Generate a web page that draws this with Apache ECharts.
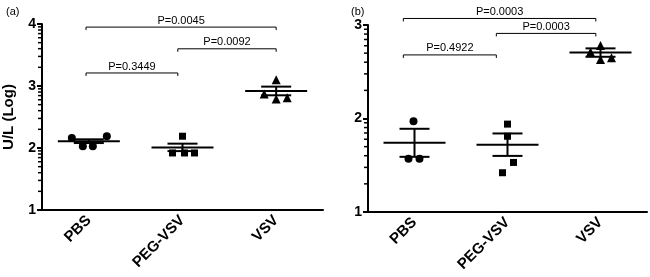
<!DOCTYPE html>
<html>
<head>
<meta charset="utf-8">
<script src="https://cdn.jsdelivr.net/npm/echarts@6/dist/echarts.min.js"></script>
<style>
  html, body { margin: 0; padding: 0; background: #fff; }
  #chart { width: 650px; height: 277px; }
</style>
</head>
<body>
<div id="chart"></div>
<script>
var categories = ['PBS', 'PEG-VSV', 'VSV'];

// panel (a) – individual points, log10 U/L
var pbsA = [2.16, 2.03, 2.03, 2.19];
var pegA = [2.19, 1.92, 1.92, 1.92];
var vsvA = [3.10, 2.87, 2.79, 2.81];
var meanA = [2.11, 2.01, 2.92];
var semA = [0.03, 0.06, 0.07];

// panel (b)
var pbsB = [1.97, 1.57, 1.57];
var pegB = [1.94, 1.81, 1.53, 1.42];
var vsvB = [2.78, 2.71, 2.63, 2.65];
var meanB = [1.74, 1.72, 2.705];
var semB = [0.15, 0.12, 0.045];

// p-value brackets: [from, to, height, text]
var bracketsA = [[-0.03, 2, 3.95, 'P=0.0045'], [0.95, 2, 3.6, 'P=0.0092'], [-0.03, 0.95, 3.21, 'P=0.3449']];
var bracketsB = [[-0.12, 1.95, 3.07, 'P=0.0003'], [0.88, 1.95, 2.91, 'P=0.0003'], [-0.12, 0.88, 2.68, 'P=0.4922']];

// horizontal jitter of the dots (pixels)
var jitA = [[-17, -6, 4, 18], [0, -10, 2, 12], [0, -12, 0, 11]];
var jitB = [[-1, -6, 5], [0, 0, 6, -5], [0, -10, 0, 11]];

var FONT = 'Liberation Sans, Arial, sans-serif';

function logMinor(lo, hi) {
  var out = [];
  for (var d = lo; d < hi; d++) {
    for (var k = 2; k <= 9; k++) out.push(d + Math.log10(k));
  }
  return out;
}

// category coords are snapped to integers, so fractional positions go through the band width
function xAt(api, f, y) {
  var i = Math.round(f);
  var p = api.coord([i, y]);
  return [p[0] + (f - i) * api.size([1, 0])[0], p[1]];
}

function pts(vals, idx, jit) {
  return vals.map(function (v, i) {
    return { value: [idx, v], symbolOffset: [jit[i], 0] };
  });
}

function scatter(vals, idx, jit, sym, size, g) {
  return {
    type: 'scatter', xAxisIndex: g, yAxisIndex: g,
    symbol: sym, symbolSize: size,
    itemStyle: { color: '#000', opacity: 1 },
    data: pts(vals, idx, jit), z: 3
  };
}

function meanSeries(means, sems, g) {
  return {
    type: 'custom', xAxisIndex: g, yAxisIndex: g, z: 4,
    data: means.map(function (m, i) { return [i, m, sems[i]]; }),
    renderItem: function (params, api) {
      var c = api.coord([api.value(0), api.value(1)]);
      var up = api.coord([api.value(0), api.value(1) + api.value(2)]);
      var dn = api.coord([api.value(0), api.value(1) - api.value(2)]);
      var st = { stroke: '#000', lineWidth: 2 };
      return {
        type: 'group', children: [
          { type: 'line', shape: { x1: c[0] - 31, y1: c[1], x2: c[0] + 31, y2: c[1] }, style: st },
          { type: 'line', shape: { x1: c[0], y1: up[1], x2: c[0], y2: dn[1] }, style: st },
          { type: 'line', shape: { x1: c[0] - 15, y1: up[1], x2: c[0] + 15, y2: up[1] }, style: st },
          { type: 'line', shape: { x1: c[0] - 15, y1: dn[1], x2: c[0] + 15, y2: dn[1] }, style: st }
        ]
      };
    }
  };
}

function bracketSeries(br, g) {
  return {
    type: 'custom', xAxisIndex: g, yAxisIndex: g, z: 5, clip: false,
    data: br.map(function (b) { return [Math.round(b[0]), b[2]]; }),
    renderItem: function (params, api) {
      var b = br[params.dataIndex];
      var p0 = xAt(api, b[0], b[2]);
      var p1 = xAt(api, b[1], b[2]);
      return {
        type: 'group', children: [
          { type: 'polyline', shape: { points: [[p0[0], p0[1] + 3], [p0[0], p0[1]], [p1[0], p1[1]], [p1[0], p1[1] + 3]] },
            style: { stroke: '#000', lineWidth: 1, fill: null } },
          { type: 'text', x: (p0[0] + p1[0]) / 2, y: p0[1] - 1,
            style: { text: b[3], fill: '#000', font: '11px ' + FONT, textAlign: 'center', textVerticalAlign: 'bottom' } }
        ]
      };
    }
  };
}

function minorSeries(lo, hi, g) {
  var ticks = logMinor(lo, hi);
  return {
    type: 'custom', xAxisIndex: g, yAxisIndex: g, z: 2, clip: false, silent: true,
    data: ticks.map(function (v) { return [0, v]; }),
    renderItem: function (params, api) {
      var p = xAt(api, -0.5, ticks[params.dataIndex]);
      return { type: 'line', shape: { x1: p[0] - 4, y1: p[1], x2: p[0], y2: p[1] }, style: { stroke: '#000', lineWidth: 1.5 } };
    }
  };
}

function xAx(g) {
  return {
    type: 'category', gridIndex: g, data: categories,
    axisLine: { lineStyle: { color: '#000', width: 2 } },
    axisTick: { alignWithLabel: true, length: 5, lineStyle: { color: '#000', width: 2 } },
    axisLabel: { rotate: 45, color: '#000', fontWeight: 'bold', fontSize: 15, fontFamily: FONT, margin: 8 }
  };
}

function yAx(g, max, name) {
  return {
    type: 'value', gridIndex: g, min: 1, max: max, interval: 1,
    name: name, nameLocation: 'middle', nameGap: 26,
    nameTextStyle: { color: '#000', fontWeight: 'bold', fontSize: 15, fontFamily: FONT },
    splitLine: { show: false },
    axisLine: { show: true, lineStyle: { color: '#000', width: 2 } },
    axisTick: { show: true, length: 5, lineStyle: { color: '#000', width: 2 } },
    axisLabel: { color: '#000', fontWeight: 'bold', fontSize: 14, fontFamily: FONT, margin: 6 }
  };
}

var option = {
  animation: false,
  backgroundColor: '#fff',
  title: [
    { text: '(a)', left: 1, top: 1, textStyle: { fontSize: 11, fontWeight: 'normal', color: '#000', fontFamily: FONT } },
    { text: '(b)', left: 346, top: 1, textStyle: { fontSize: 11, fontWeight: 'normal', color: '#000', fontFamily: FONT } }
  ],
  grid: [
    { left: 42, right: 327, top: 24, bottom: 67 },
    { left: 368, right: 3, top: 25, bottom: 65 }
  ],
  xAxis: [xAx(0), xAx(1)],
  yAxis: [yAx(0, 4, 'U/L (Log)'), yAx(1, 3, '')],
  series: [
    minorSeries(1, 4, 0),
    minorSeries(1, 3, 1),
    scatter(pbsA, 0, jitA[0], 'circle', 8, 0),
    scatter(pegA, 1, jitA[1], 'rect', 7, 0),
    scatter(vsvA, 2, jitA[2], 'triangle', 9, 0),
    scatter(pbsB, 0, jitB[0], 'circle', 8, 1),
    scatter(pegB, 1, jitB[1], 'rect', 7, 1),
    scatter(vsvB, 2, jitB[2], 'triangle', 9, 1),
    meanSeries(meanA, semA, 0),
    meanSeries(meanB, semB, 1),
    bracketSeries(bracketsA, 0),
    bracketSeries(bracketsB, 1)
  ]
};

var myChart = echarts.init(document.getElementById('chart'));
myChart.setOption(option);
</script>
</body>
</html>
